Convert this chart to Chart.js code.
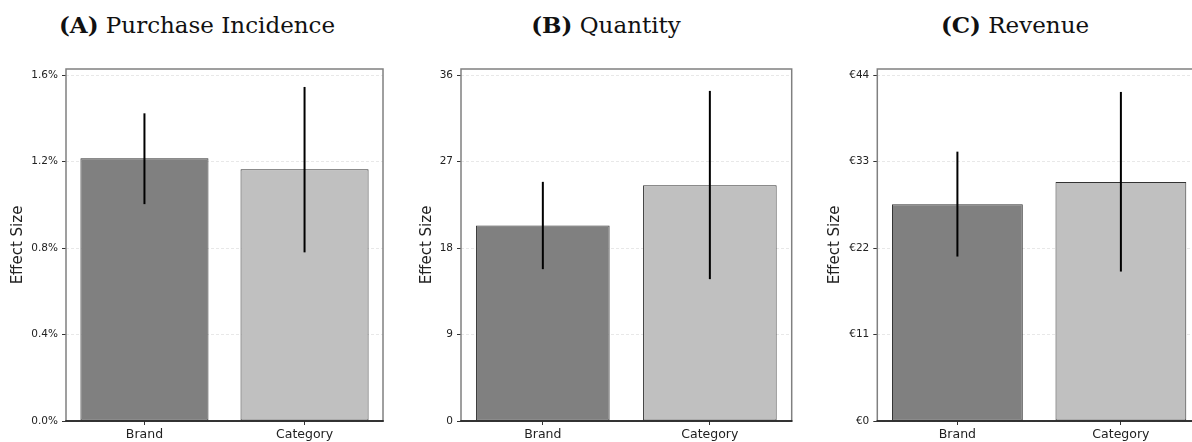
<!DOCTYPE html>
<html>
<head>
  <title>Effect Size by Outcome</title>
  <script src="https://cdn.jsdelivr.net/npm/chart.js"></script>
  <style>
    body { margin: 0; width: 1192px; height: 442px; overflow: hidden; position: relative; background: #fff; }
    .title { position: absolute; top: 13px; width: 400px; text-align: center; font-family: "DejaVu Serif", serif; font-size: 23px; line-height: 23px; color: #111; white-space: nowrap; }
    .panel { position: absolute; top: 0; height: 442px; }
  </style>
</head>
<body>
  <div class="title" style="left:-3px"><b>(A)</b> Purchase Incidence</div>
  <div class="title" style="left:406px"><b>(B)</b> Quantity</div>
  <div class="title" style="left:815px"><b>(C)</b> Revenue</div>
  <canvas id="chartA" class="panel" style="left:0" width="400" height="442"></canvas>
  <canvas id="chartB" class="panel" style="left:400px" width="400" height="442"></canvas>
  <canvas id="chartC" class="panel" style="left:800px" width="420" height="442"></canvas>

  <script>
    const categories = ['Brand', 'Category'];
    const barColors = ['#808080', '#c0c0c0'];

    // (A) purchase incidence, in percent
    const incidence = [1.215, 1.164];
    const incidenceLow = [1.003, 0.780];
    const incidenceHigh = [1.423, 1.545];
    const incidenceTicks = [0, 0.4, 0.8, 1.2, 1.6];

    // (B) quantity
    const quantity = [20.35, 24.55];
    const quantityLow = [15.81, 14.77];
    const quantityHigh = [24.9, 34.37];
    const quantityTicks = [0, 9, 18, 27, 36];

    // (C) revenue, in euro
    const revenue = [27.6, 30.43];
    const revenueLow = [20.93, 19.02];
    const revenueHigh = [34.28, 41.88];
    const revenueTicks = [0, 11, 22, 33, 44];

    // error bars + axes frame drawn on top of the bars
    const overlay = {
      id: 'overlay',
      afterDatasetsDraw(chart, args, opts) {
        const ctx = chart.ctx;
        const xs = chart.scales.x, ys = chart.scales.y;
        const a = chart.chartArea;
        ctx.save();
        ctx.strokeStyle = '#000';
        ctx.lineWidth = 2;
        for (let i = 0; i < opts.low.length; i++) {
          const x = xs.getPixelForValue(i);
          ctx.beginPath();
          ctx.moveTo(x, ys.getPixelForValue(opts.low[i]));
          ctx.lineTo(x, ys.getPixelForValue(opts.high[i]));
          ctx.stroke();
        }
        ctx.strokeStyle = '#808080';
        ctx.lineWidth = 1.5;
        ctx.strokeRect(a.left, a.top, a.right - a.left, a.bottom - a.top);
        ctx.strokeStyle = '#111';
        ctx.lineWidth = 1.3;
        ctx.beginPath();
        ctx.moveTo(a.left - 0.75, a.bottom);
        ctx.lineTo(a.right + 0.75, a.bottom);
        ctx.stroke();
        ctx.restore();
      }
    };

    function makePanel(id, values, low, high, ticks, yMax, fmt, axisWidth, padRight, titlePad) {
      new Chart(document.getElementById(id), {
        type: 'bar',
        data: {
          datasets: [{
            data: values.map((v, i) => ({ x: i, y: v })),
            backgroundColor: barColors,
            borderColor: '#333',
            borderWidth: 1,
            borderSkipped: false,
            categoryPercentage: 1,
            barPercentage: 0.8
          }]
        },
        options: {
          responsive: false,
          animation: false,
          layout: { padding: { top: 69, right: padRight, bottom: 0, left: 0 } },
          plugins: {
            legend: { display: false },
            tooltip: { enabled: false },
            overlay: { low, high }
          },
          scales: {
            x: {
              type: 'linear',
              min: -0.49,
              max: 1.49,
              offset: false,
              afterBuildTicks: s => { s.ticks = [{ value: 0 }, { value: 1 }]; },
              afterFit: s => { s.height = 21; },
              ticks: {
                callback: v => categories[v],
                font: { family: 'DejaVu Sans', size: 12.5 },
                color: '#222',
                padding: 2,
                maxRotation: 0
              },
              grid: { offset: false, drawOnChartArea: false, tickLength: 4, tickColor: '#333', tickWidth: 1 },
              border: { display: false }
            },
            y: {
              min: 0,
              max: yMax,
              afterBuildTicks: s => { s.ticks = ticks.map(v => ({ value: v })); },
              afterFit: s => { s.width = axisWidth; },
              ticks: {
                callback: fmt,
                font: { family: 'DejaVu Sans', size: 10.5 },
                color: '#222',
                padding: 4
              },
              grid: { color: '#e2e2e2', lineWidth: 0.8, tickLength: 4, tickColor: '#333', tickWidth: 1 },
              border: { display: false, dash: [3, 2] },
              title: {
                display: true,
                text: 'Effect Size',
                font: { family: 'DejaVu Sans', size: 15 },
                color: '#222',
                padding: { top: titlePad, bottom: 0 }
              }
            }
          }
        },
        plugins: [overlay]
      });
    }

    makePanel('chartA', incidence, incidenceLow, incidenceHigh, incidenceTicks, 1.628,
      v => v.toFixed(1) + '%', 66, 17, 9);
    makePanel('chartB', quantity, quantityLow, quantityHigh, quantityTicks, 36.65,
      v => String(v), 61, 8.3, 17.7);
    makePanel('chartC', revenue, revenueLow, revenueHigh, revenueTicks, 44.8,
      v => '€' + v, 77.3, 19, 25.7);
  </script>
</body>
</html>
